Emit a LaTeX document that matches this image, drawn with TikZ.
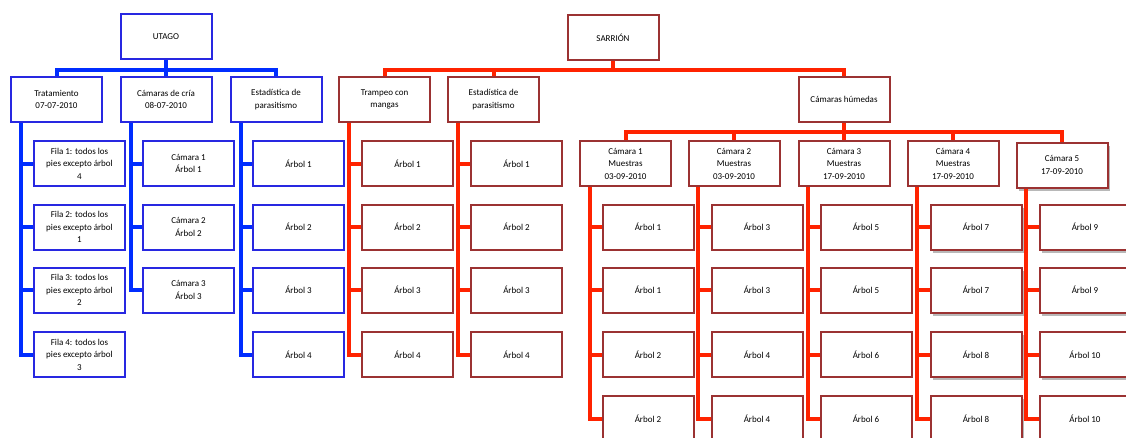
\documentclass[tikz,border=0pt]{standalone}
\usepackage{fontspec}
\setmainfont{Carlito}
\usetikzlibrary{shadows}
\definecolor{bline}{RGB}{0,45,255}
\definecolor{bborder}{RGB}{40,40,225}
\definecolor{rline}{RGB}{255,35,0}
\definecolor{rborder}{RGB}{155,50,50}
\begin{document}
\begin{tikzpicture}[x=1pt,y=-1pt,
  box/.style={draw, fill=white, minimum width=91pt, minimum height=45pt, inner sep=1pt, align=center, font=\fontsize{9}{12.5}\selectfont, line width=2pt},
  bbox/.style={box, draw=bborder},
  rbox/.style={box, draw=rborder},
  sbox/.style={rbox, drop shadow={fill=black, opacity=0.28, shadow xshift=2.5pt, shadow yshift=-3pt}},
  bconn/.style={draw=bline, line width=4pt},
  rconn/.style={draw=rline, line width=4pt}]
\useasboundingbox (0,0) rectangle (1126,437);
\clip (0,0) rectangle (1126,437);

% ---------- UTAGO (blue) ----------
\node[bbox] (utago) at (166,36.5) {UTAGO};
\node[bbox] (b1) at (56.5,99.5) {Tratamiento\\07-07-2010};
\node[bbox] (b2) at (166,99.5) {Cámaras de cría\\08-07-2010};
\node[bbox] (b3) at (276,99.5) {Estadística de\\parasitismo};

\node[bbox] (b11) at (79.5,163.5) {Fila 1: todos los\\pies excepto árbol\\4};
\node[bbox] (b12) at (79.5,227) {Fila 2: todos los\\pies excepto árbol\\1};
\node[bbox] (b13) at (79.5,290) {Fila 3: todos los\\pies excepto árbol\\2};
\node[bbox] (b14) at (79.5,354.5) {Fila 4: todos los\\pies excepto árbol\\3};

\node[bbox] (b21) at (188.5,163.5) {Cámara 1\\Árbol 1};
\node[bbox] (b22) at (188.5,227) {Cámara 2\\Árbol 2};
\node[bbox] (b23) at (188.5,290) {Cámara 3\\Árbol 3};

\node[bbox] (b31) at (298.5,163.5) {Árbol 1};
\node[bbox] (b32) at (298.5,227) {Árbol 2};
\node[bbox] (b33) at (298.5,290) {Árbol 3};
\node[bbox] (b34) at (298.5,354.5) {Árbol 4};

\draw[bconn] (utago.south) -- ++(0,10) -| (b1.north);
\draw[bconn] (utago.south) -- ++(0,10) -| (b3.north);
\draw[bconn] (utago.south) -- (b2.north);
\foreach \c in {b11,b12,b13,b14}
  \draw[bconn] ([xshift=11pt]b1.south west) |- (\c.west);
\foreach \c in {b21,b22,b23}
  \draw[bconn] ([xshift=11pt]b2.south west) |- (\c.west);
\foreach \c in {b31,b32,b33,b34}
  \draw[bconn] ([xshift=11pt]b3.south west) |- (\c.west);

% ---------- SARRION (red) ----------
\node[rbox] (sarrion) at (613,37.5) {SARRIÓN};
\node[rbox] (r1) at (384.5,99.5) {Trampeo con\\mangas};
\node[rbox] (r2) at (493.5,99.5) {Estadística de\\parasitismo};
\node[rbox] (r3) at (844,99.5) {Cámaras húmedas};

\node[rbox] (r11) at (407.5,163.5) {Árbol 1};
\node[rbox] (r12) at (407.5,227) {Árbol 2};
\node[rbox] (r13) at (407.5,290) {Árbol 3};
\node[rbox] (r14) at (407.5,354.5) {Árbol 4};

\node[rbox] (r21) at (516.5,163.5) {Árbol 1};
\node[rbox] (r22) at (516.5,227) {Árbol 2};
\node[rbox] (r23) at (516.5,290) {Árbol 3};
\node[rbox] (r24) at (516.5,354.5) {Árbol 4};

\node[rbox] (k1) at (625.5,163.5) {Cámara 1\\Muestras\\03-09-2010};
\node[rbox] (k2) at (734,163.5) {Cámara 2\\Muestras\\03-09-2010};
\node[rbox] (k3) at (844,163.5) {Cámara 3\\Muestras\\17-09-2010};
\node[rbox] (k4) at (953,163.5) {Cámara 4\\Muestras\\17-09-2010};
\node[sbox] (k5) at (1062,165) {Cámara 5\\17-09-2010};

\node[rbox] (k11) at (648,227) {Árbol 1};
\node[rbox] (k12) at (648,290) {Árbol 1};
\node[rbox] (k13) at (648,354.5) {Árbol 2};
\node[rbox] (k14) at (648,418.5) {Árbol 2};

\node[rbox] (k21) at (757,227) {Árbol 3};
\node[rbox] (k22) at (757,290) {Árbol 3};
\node[rbox] (k23) at (757,354.5) {Árbol 4};
\node[rbox] (k24) at (757,418.5) {Árbol 4};

\node[rbox] (k31) at (866,227) {Árbol 5};
\node[rbox] (k32) at (866,290) {Árbol 5};
\node[rbox] (k33) at (866,354.5) {Árbol 6};
\node[rbox] (k34) at (866,418.5) {Árbol 6};

\node[sbox] (k41) at (976,227) {Árbol 7};
\node[sbox] (k42) at (976,290) {Árbol 7};
\node[sbox] (k43) at (976,354.5) {Árbol 8};
\node[sbox] (k44) at (976,418.5) {Árbol 8};

\node[sbox] (k51) at (1085,227) {Árbol 9};
\node[sbox] (k52) at (1085,290) {Árbol 9};
\node[sbox] (k53) at (1085,354.5) {Árbol 10};
\node[sbox] (k54) at (1085,418.5) {Árbol 10};

\draw[rconn] (sarrion.south) -- ++(0,9) -| (r1.north);
\draw[rconn] (sarrion.south) -- ++(0,9) -| (r2.north);
\draw[rconn] (sarrion.south) -- ++(0,9) -| (r3.north);
\foreach \c in {r11,r12,r13,r14}
  \draw[rconn] ([xshift=11pt]r1.south west) |- (\c.west);
\foreach \c in {r21,r22,r23,r24}
  \draw[rconn] ([xshift=11pt]r2.south west) |- (\c.west);

\foreach \k in {k1,k2,k4,k5}
  \draw[rconn] (r3.south) -- ++(0,9) -| (\k.north);
\draw[rconn] (r3.south) -- (k3.north);

\foreach \p in {1,2,3,4,5}
  \foreach \j in {1,2,3,4}
    \draw[rconn] ([xshift=10.5pt]k\p.south west) |- (k\p\j.west);
\end{tikzpicture}
\end{document}
